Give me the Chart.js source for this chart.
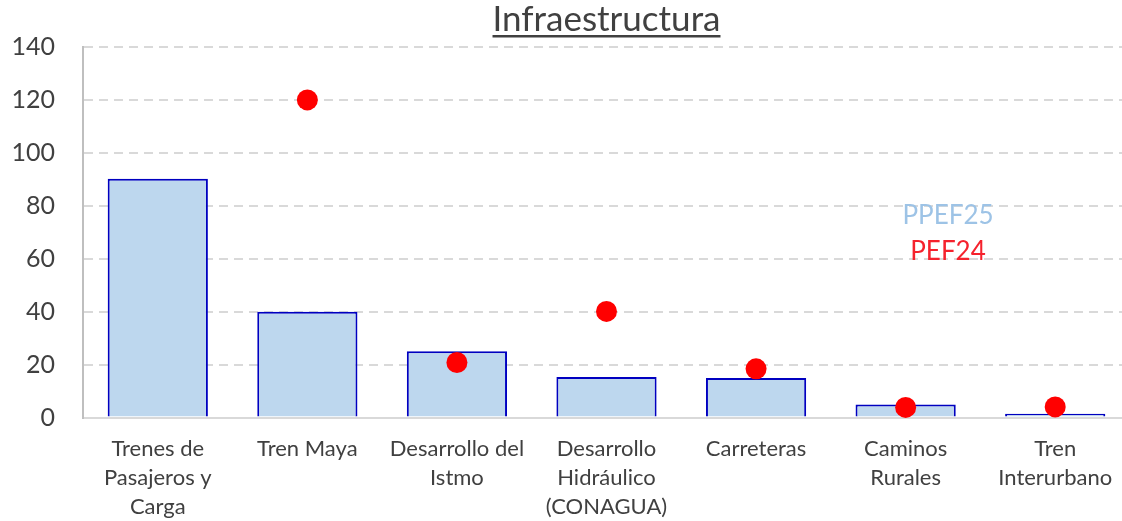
<!DOCTYPE html>
<html>
<head>
<meta charset="utf-8">
<script src="https://cdn.jsdelivr.net/npm/chart.js@4"></script>
<style>
  html, body { margin: 0; padding: 0; background: #fff; overflow: hidden; }
  /* el área del gráfico continúa unos píxeles más allá del borde derecho */
  #wrap { width: 1122px; height: 521px; overflow: hidden; }
</style>
</head>
<body>
<div id="wrap"><canvas id="infraChart" width="1130" height="521"></canvas></div>
<script>
// categorías y valores (miles de millones de pesos)
const categorias = [
  ['Trenes de', 'Pasajeros y', 'Carga'],
  ['Tren Maya'],
  ['Desarrollo del', 'Istmo'],
  ['Desarrollo', 'Hidráulico', '(CONAGUA)'],
  ['Carreteras'],
  ['Caminos', 'Rurales'],
  ['Tren', 'Interurbano']
];
const ppef25 = [90.2, 40, 25, 15.3, 14.9, 4.9, 1.4];
const pef24 = [null, 120, 20.8, 40.1, 18.4, 3.8, 4.0];
const yTicks = [0, 20, 40, 60, 80, 100, 120, 140];

const FONT = 'Lato, "Open Sans", sans-serif';
const GRIS = '#404040';

// título subrayado y leyenda de solo texto
const textosPlugin = {
  id: 'textos',
  afterDraw(chart, args, opts) {
    const ctx = chart.ctx;
    const area = chart.chartArea;
    ctx.save();
    // título
    ctx.font = '35px ' + FONT;
    ctx.fillStyle = GRIS;
    ctx.textAlign = 'center';
    ctx.textBaseline = 'alphabetic';
    const cx = (area.left + area.right) / 2;
    ctx.fillText(opts.title, cx, 31);
    const w = ctx.measureText(opts.title).width;
    ctx.fillRect(cx - w / 2, 35, w, 2.5);
    // leyenda
    ctx.font = '26px ' + FONT;
    ctx.textBaseline = 'middle';
    chart.data.datasets.forEach((ds, i) => {
      ctx.fillStyle = opts.colors[i];
      ctx.fillText(ds.label, opts.x, opts.ys[i]);
    });
    ctx.restore();
  }
};

new Chart(document.getElementById('infraChart'), {
  data: {
    labels: categorias,
    datasets: [
      {
        type: 'bar',
        label: 'PPEF25',
        data: ppef25,
        backgroundColor: '#BDD7EE',
        borderColor: '#0000C0',
        borderWidth: 2,
        borderSkipped: 'bottom',
        barPercentage: 0.67,
        categoryPercentage: 1.0,
        order: 2
      },
      {
        type: 'line',
        label: 'PEF24',
        data: pef24,
        showLine: false,
        pointRadius: 10.5,
        pointBackgroundColor: '#FF0000',
        pointBorderWidth: 0,
        clip: false,
        order: 1
      }
    ]
  },
  options: {
    responsive: false,
    animation: false,
    layout: { autoPadding: false, padding: { top: 47, left: 0, right: 0, bottom: 0 } },
    scales: {
      x: {
        offset: true,
        grid: { display: false, drawTicks: false },
        border: { display: true, color: '#D9D9D9', width: 2 },
        ticks: {
          autoSkip: false,
          maxRotation: 0,
          padding: 17,
          color: GRIS,
          font: { family: FONT, size: 22, lineHeight: 1.32 }
        },
        afterFit(scale) {
          scale.height = 103.5;
          scale.paddingLeft = 0;
          scale.paddingRight = 0;
        }
      },
      y: {
        min: 0,
        max: 140,
        afterBuildTicks(scale) { scale.ticks = yTicks.map(v => ({ value: v })); },
        grid: {
          drawTicks: false,
          color: ctx => ctx.tick && ctx.tick.value === 0 ? 'rgba(0,0,0,0)' : '#D9D9D9',
          lineWidth: 2
        },
        border: { display: true, color: '#BFBFBF', width: 2, dash: [9, 6] },
        ticks: {
          padding: 28,
          color: GRIS,
          font: { family: FONT, size: 25 }
        },
        afterFit(scale) { scale.width = 83; }
      }
    },
    plugins: {
      legend: { display: false },
      tooltip: { enabled: false },
      textos: {
        title: 'Infraestructura',
        x: 948,
        ys: [216, 252],
        colors: ['#9DC3E6', '#F5222D']
      }
    }
  },
  plugins: [textosPlugin]
});
</script>
</body>
</html>
